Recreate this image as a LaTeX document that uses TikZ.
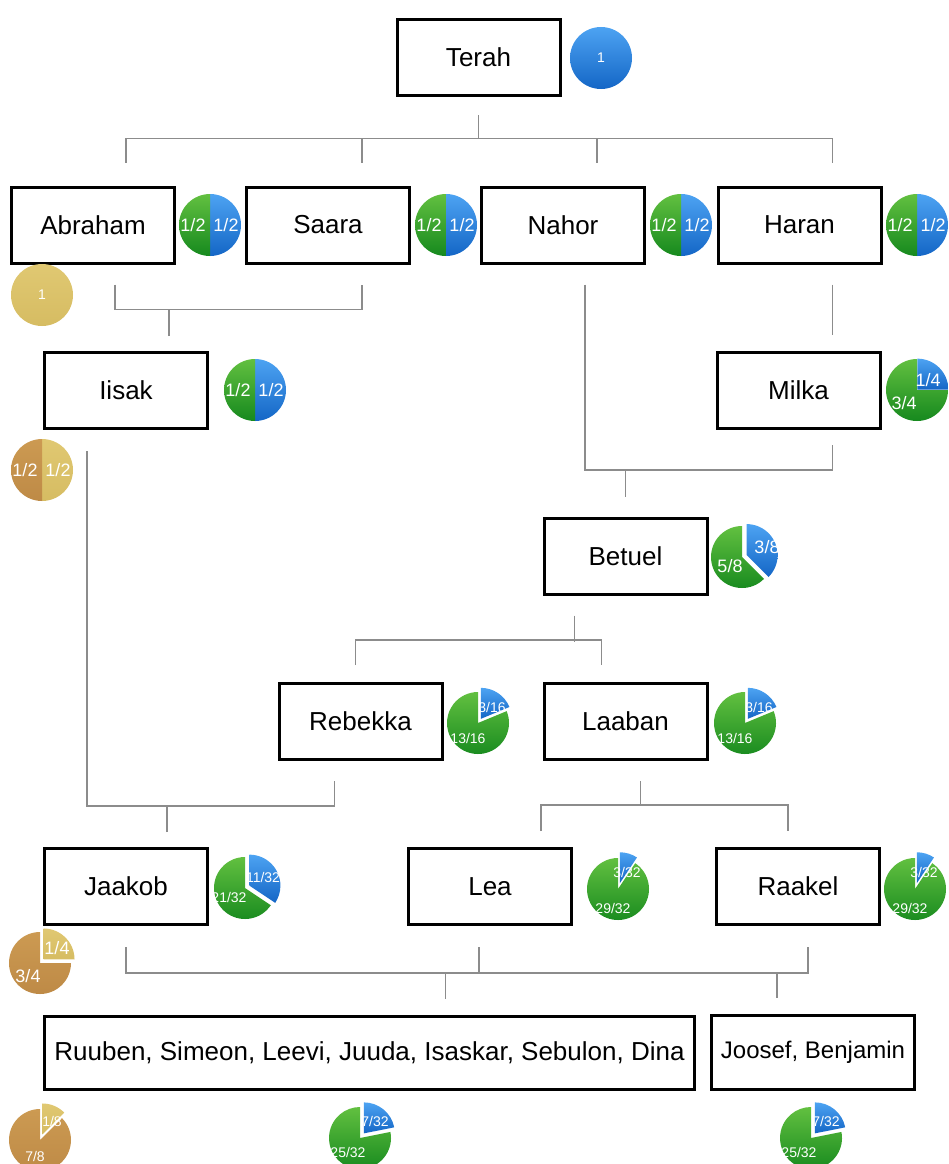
\documentclass[tikz,border=0pt]{standalone}
\usepackage{fontspec}
\setmainfont{Liberation Sans}
\usetikzlibrary{calc}
\definecolor{bluetop}{HTML}{4DA3F2}
\definecolor{bluebot}{HTML}{1466C6}
\definecolor{greentop}{HTML}{62C040}
\definecolor{greenbot}{HTML}{16891E}
\definecolor{goldlt}{HTML}{E0C872}
\definecolor{goldlb}{HTML}{D6BC62}
\definecolor{golddt}{HTML}{CC9A52}
\definecolor{golddb}{HTML}{BE8A46}
\definecolor{conncol}{HTML}{8C8C8C}
% #1 cx, #2 cy, #3 f1, #4 f2 (clockwise from 12 o'clock), #5 explode, #6 top colour, #7 bottom colour
\newcommand\pieslice[7]{%
  \path[top color=#6,bottom color=#7,shift={({180*(#3+#4)-90}:#5)}]
    (#1,#2) -- ++({360*#3-90}:31) arc[start angle={360*#3-90}, end angle={360*#4-90}, radius=31] -- cycle;}
\begin{document}
\begin{tikzpicture}[x=1pt,y=-1pt,
  person/.style={draw=black,line width=3pt,fill=white,minimum width=163pt,minimum height=76pt,inner sep=0pt,font=\fontsize{26}{30}\selectfont},
  conn/.style={draw=conncol,line width=1.5pt},
  pl/.style={text=white,inner sep=0pt,font=\fontsize{18}{18}\selectfont},
  ps/.style={text=white,inner sep=0pt,font=\fontsize{14}{14}\selectfont}]
\useasboundingbox (0,0) rectangle (948,1164);

% ---------- boxes ----------
\node[person] (terah)   at (478.5,57.5) {Terah};
\node[person] (abraham) at (93,225)     {Abraham};
\node[person] (saara)   at (328,225)    {Saara};
\node[person] (nahor)   at (563,225)    {Nahor};
\node[person] (haran)   at (799.5,225)  {Haran};
\node[person] (iisak)   at (126,390.5)  {Iisak};
\node[person] (milka)   at (798.5,390.5){Milka};
\node[person] (betuel)  at (625.5,556)  {Betuel};
\node[person] (rebekka) at (360.5,721.5){Rebekka};
\node[person] (laaban)  at (625.5,721.5){Laaban};
\node[person] (jaakob)  at (126,886.5)  {Jaakob};
\node[person] (lea)     at (490,886.5)  {Lea};
\node[person] (raakel)  at (798,886.5)  {Raakel};
\node[person,minimum width=650pt,minimum height=73pt] (sons) at (369.5,1052.5) {Ruuben, Simeon, Leevi, Juuda, Isaskar, Sebulon, Dina};
\node[person,minimum width=203pt,minimum height=74pt,font=\fontsize{24}{28}\selectfont] (joosef) at (813,1052) {Joosef, Benjamin};

% ---------- connectors ----------
\draw[conn] ($(terah.south)+(0,18)$) -- ($(terah.south)+(0,42)$);
\draw[conn] ($(abraham.north)+(33,-23)$) |- ($(haran.north)+(33,-47)$) -- ($(haran.north)+(33,-23)$);
\draw[conn] ($(saara.north)+(34,-23)$) -- ++(0,-24);
\draw[conn] ($(nahor.north)+(34,-23)$) -- ++(0,-24);

\draw[conn] ($(abraham.south)+(22,20)$) |- ($(saara.south)+(34,45)$) -- ($(saara.south)+(34,20)$);
\draw[conn] ($(iisak.north)+(43,-15)$) -- ++(0,-27);

\draw[conn] ($(haran.south)+(33,20)$) -- ($(milka.north)+(34,-16)$);
\draw[conn] ($(nahor.south)+(22,20)$) |- ($(milka.south)+(34,40)$) -- ($(milka.south)+(34,15)$);
\draw[conn] ($(betuel.north)+(0,-20)$) -- ++(0,-27);

\draw[conn] ($(betuel.south)+(-51,20)$) -- ++(0,26);
\draw[conn] ($(rebekka.north)+(-5,-17)$) |- ($(laaban.north)+(-24,-42)$) -- ($(laaban.north)+(-24,-17)$);

\draw[conn] ($(iisak.south)+(-39,21)$) |- ($(rebekka.south)+(-26,45)$) -- ($(rebekka.south)+(-26,20)$);
\draw[conn] ($(jaakob.north)+(41,-15)$) -- ++(0,-27);

\draw[conn] ($(laaban.south)+(15,20)$) -- ++(0,25);
\draw[conn] ($(lea.north)+(51,-16)$) |- ($(raakel.north)+(-10,-42)$) -- ($(raakel.north)+(-10,-16)$);

\draw[conn] ($(jaakob.south)+(0,21)$) |- ($(raakel.south)+(10,47)$) -- ($(raakel.south)+(10,21)$);
\draw[conn] ($(lea.south)+(-11,21)$) -- ++(0,26);
\draw[conn] ($(sons.north)+(76,-16)$) -- ++(0,-26);
\draw[conn] ($(joosef.north)+(-36,-16)$) -- ++(0,-26);

% ---------- pies ----------
% Terah
\pieslice{601}{58}{0}{1}{0}{bluetop}{bluebot}
\node[ps] (pTerah) at (601,58) {1};
% row 2 halves
\foreach \cx/\nm in {210/pAbr,446/pSaa,681/pNah,917/pHar}{
  \pieslice{\cx}{225}{0}{0.5}{0}{bluetop}{bluebot}
  \pieslice{\cx}{225}{0.5}{1}{0}{greentop}{greenbot}
  \node[pl] (\nm g) at (\cx-17,225) {1/2};
  \node[pl] (\nm b) at (\cx+16,225) {1/2};
}
% Abraham gold
\pieslice{42}{295}{0}{1}{0}{goldlt}{goldlb}
\node[ps] (gAbr) at (42,295) {1};
% Iisak
\pieslice{255}{390}{0}{0.5}{0}{bluetop}{bluebot}
\pieslice{255}{390}{0.5}{1}{0}{greentop}{greenbot}
\node[pl] (pIisg) at (238,390) {1/2};
\node[pl] (pIisb) at (271,390) {1/2};
% Iisak gold
\pieslice{42}{470}{0}{0.5}{0}{goldlt}{goldlb}
\pieslice{42}{470}{0.5}{1}{0}{golddt}{golddb}
\node[pl] (gIisd) at (25,470) {1/2};
\node[pl] (gIisl) at (58,470) {1/2};
% Milka
\pieslice{917}{390}{0}{0.25}{0.5}{bluetop}{bluebot}
\pieslice{917}{390}{0.25}{1}{0}{greentop}{greenbot}
\node[pl] (pMilb) at (928,380) {1/4};
\node[pl] (pMilg) at (904,403) {3/4};
% Betuel
\pieslice{742}{557}{0}{0.375}{5}{bluetop}{bluebot}
\pieslice{742}{557}{0.375}{1}{0}{greentop}{greenbot}
\node[pl] (pBetb) at (767,547) {3/8};
\node[pl] (pBetg) at (730,566) {5/8};
% Rebekka, Laaban
\foreach \cx/\nm in {478/pReb,745/pLaa}{
  \pieslice{\cx}{723}{0}{0.1875}{5}{bluetop}{bluebot}
  \pieslice{\cx}{723}{0.1875}{1}{0}{greentop}{greenbot}
  \node[ps] (\nm b) at (\cx+14,707) {3/16};
  \node[ps] (\nm g) at (\cx-10,738) {13/16};
}
% Jaakob
\pieslice{245}{888}{0}{0.34375}{5}{bluetop}{bluebot}
\pieslice{245}{888}{0.34375}{1}{0}{greentop}{greenbot}
\node[ps] (pJaab) at (263,877) {11/32};
\node[ps] (pJaag) at (229,897) {21/32};
% Jaakob gold
\pieslice{40}{963}{0}{0.25}{5}{goldlt}{goldlb}
\pieslice{40}{963}{0.25}{1}{0}{golddt}{golddb}
\node[pl] (gJaal) at (57,948) {1/4};
\node[pl] (gJaad) at (28,976) {3/4};
% Lea, Raakel
\foreach \cx/\nm in {618/pLea,915/pRaa}{
  \pieslice{\cx}{889}{0}{0.09375}{6}{bluetop}{bluebot}
  \pieslice{\cx}{889}{0.09375}{1}{0}{greentop}{greenbot}
  \node[ps] (\nm b) at (\cx+9,872) {3/32};
  \node[ps] (\nm g) at (\cx-5,908) {29/32};
}
% bottom gold
\pieslice{40}{1140}{0}{0.125}{6}{goldlt}{goldlb}
\pieslice{40}{1140}{0.125}{1}{0}{golddt}{golddb}
\node[ps] (gSonl) at (52,1121) {1/8};
\node[ps] (gSond) at (35,1156) {7/8};
% bottom greens
\foreach \cx/\nm in {360/pSon,811/pJoo}{
  \pieslice{\cx}{1138}{0}{0.21875}{6}{bluetop}{bluebot}
  \pieslice{\cx}{1138}{0.21875}{1}{0}{greentop}{greenbot}
  \node[ps] (\nm b) at (\cx+15,1121) {7/32};
  \node[ps] (\nm g) at (\cx-12,1152) {25/32};
}
\end{tikzpicture}
\end{document}
